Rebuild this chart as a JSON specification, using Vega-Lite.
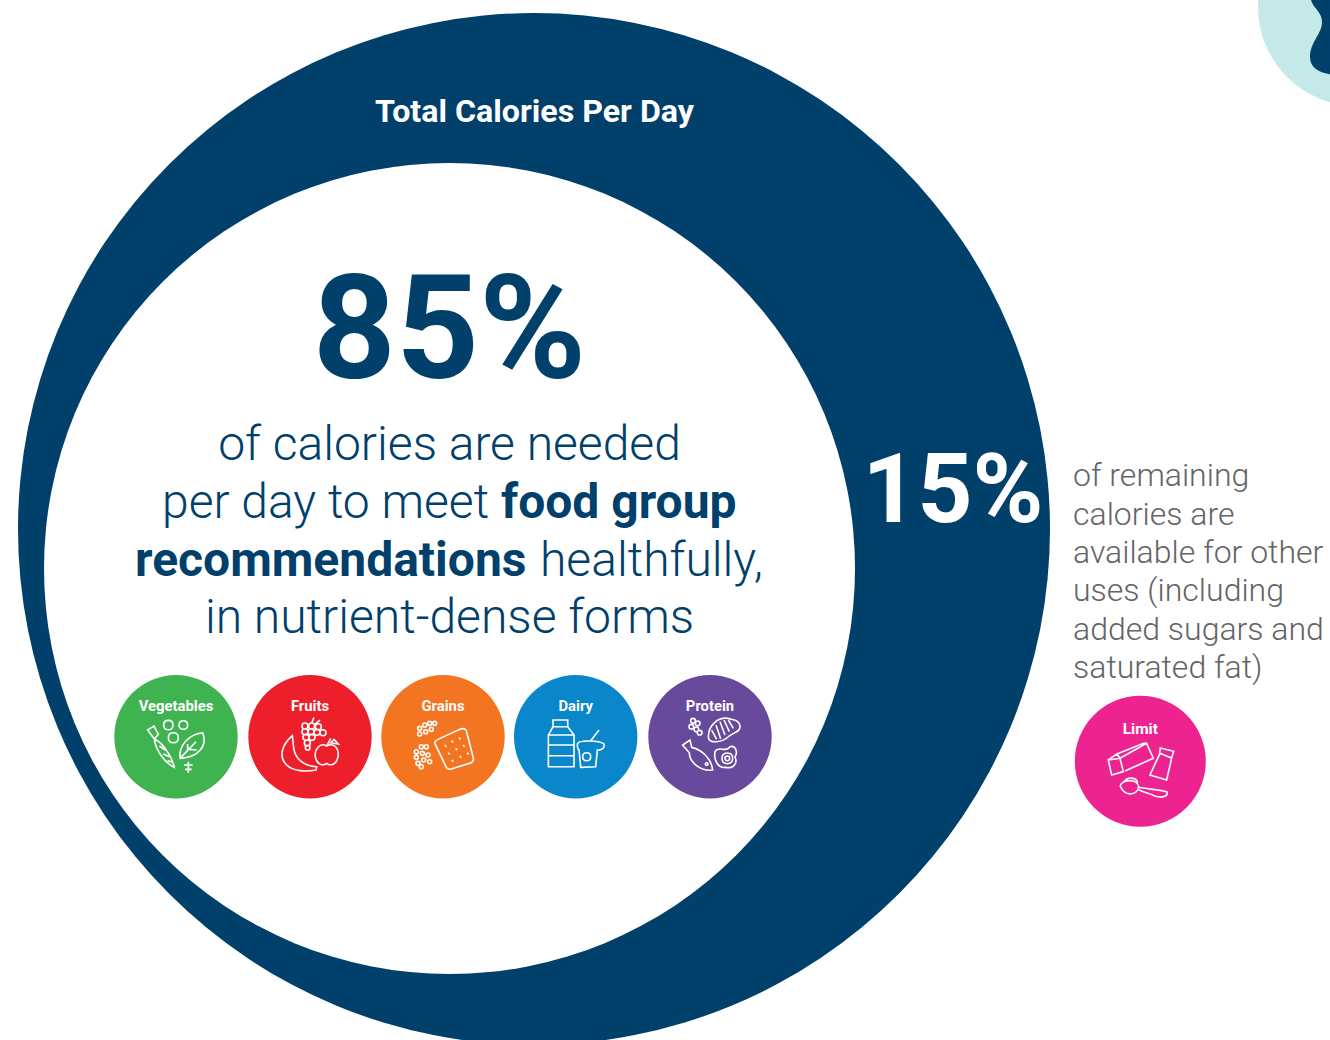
{
  "$schema": "https://vega.github.io/schema/vega-lite/v6.json",
  "width": 1330,
  "height": 1040,
  "padding": 0,
  "autosize": "none",
  "background": "white",
  "config": {"view": {"stroke": null}},
  "datasets": {
    "corner": [{"name": "corner", "x": 135.7, "y": 0.7}],
    "cornerEdge": [{"name": "corner wave", "x": 133, "y": 0}],
    "total": [{"name": "Total calories", "x": 53.4, "y": 52.9}],
    "needed": [{"name": "Needed calories", "x": 44.95, "y": 56.85}],
    "groups": [
      {"group": "Vegetables", "x": 17.6, "y": 73.67, "labelY": 71.05},
      {"group": "Fruits", "x": 31.0, "y": 73.67, "labelY": 71.05},
      {"group": "Grains", "x": 44.3, "y": 73.67, "labelY": 71.05},
      {"group": "Dairy", "x": 57.57, "y": 73.67, "labelY": 71.05},
      {"group": "Protein", "x": 71.0, "y": 73.67, "labelY": 71.05}
    ],
    "limit": [{"group": "Limit", "x": 114.03, "y": 76.13, "labelY": 73.35}],
    "titleText": [{"label": "Total Calories Per Day", "x": 53.45, "y": 12.15}],
    "bigShare": [{"label": "85%", "x": 44.95, "y": 37.8}],
    "smallShare": [{"label": "15%", "x": 95.3, "y": 52.2}],
    "bodyLight": [
      {"label": "of calories are needed", "x": 44.95, "y": 45.95, "line": 1},
      {"label": "in nutrient-dense forms", "x": 44.95, "y": 63.25, "line": 4}
    ],
    "bodyLightLeft": [
      {"label": "per day to meet", "x": 16.2, "y": 51.75},
      {"label": "healthfully,", "x": 54.0, "y": 57.55}
    ],
    "bodyBoldLeft": [
      {"label": "food group", "x": 50.1, "y": 51.75},
      {"label": "recommendations", "x": 13.5, "y": 57.55}
    ],
    "note": [
      {"label": "of remaining", "x": 107.3, "y": 48.6},
      {"label": "calories are", "x": 107.3, "y": 52.5},
      {"label": "available for other", "x": 107.3, "y": 56.3},
      {"label": "uses (including", "x": 107.3, "y": 60.1},
      {"label": "added sugars and", "x": 107.3, "y": 64.0},
      {"label": "saturated fat)", "x": 107.3, "y": 67.8}
    ]
  },
  "encoding": {
    "x": {"field": "x", "type": "quantitative", "axis": null, "scale": {"domain": [0, 133], "range": [0, 1330]}},
    "y": {"field": "y", "type": "quantitative", "axis": null, "scale": {"domain": [0, 104], "range": [0, 1040]}}
  },
  "layer": [
    {"data": {"name": "corner"}, "mark": {"type": "circle", "size": 39204, "color": "#c5e8e8", "opacity": 1, "clip": false}},
    {"data": {"name": "cornerEdge"}, "mark": {"type": "point", "filled": true, "size": 4, "color": "#00406b", "opacity": 1, "shape": "M-19 0 C-17 8 -8 12 -8 22 C-8 34 -20 42 -20 57 C-20 68 -10 75 10 75 L10 -10 L-19 -10 Z"}},
    {"data": {"name": "total"}, "mark": {"type": "circle", "size": 1065024, "color": "#00406b", "opacity": 1}},
    {"data": {"name": "needed"}, "mark": {"type": "circle", "size": 657721, "color": "#ffffff", "opacity": 1}},
    {
      "data": {"name": "groups"},
      "mark": {"type": "circle", "size": 15228, "opacity": 1},
      "encoding": {"color": {"field": "group", "type": "nominal", "legend": null, "scale": {"domain": ["Vegetables", "Fruits", "Grains", "Dairy", "Protein"], "range": ["#3fb34f", "#ed1f2b", "#f47521", "#0a87cb", "#674a9c"]}}}
    },
    {"data": {"name": "limit"}, "mark": {"type": "circle", "size": 17161, "color": "#ed2490", "opacity": 1}},
    {
      "data": {"name": "groups"},
      "mark": {"type": "point", "filled": false, "size": 0.4444, "stroke": "#ffffff", "strokeWidth": 1.6, "opacity": 1},
      "encoding": {"shape": {"field": "group", "type": "nominal", "legend": null, "scale": {
        "domain": ["Vegetables", "Fruits", "Grains", "Dairy", "Protein"],
        "range": [
          "M-85 -20 L-66 -32 L-53 -7 L-65 7 Z M-65 7 C-45 15 -15 50 -5 92 C-30 80 -60 45 -65 7 Z M-50 28 L-32 40 M-38 52 L-20 60 M-25 72 L-12 76 M-37 -35 q0 -14 14 -14 q14 0 14 14 q0 14 -14 14 q-14 0 -14 -14z M9 -35 q0 -13 13 -13 q13 0 13 13 q0 13 -13 13 q-13 0 -13 -13z M-23 3 q0 -15 15 -15 q15 0 15 15 q0 15 -15 15 q-15 0 -15 -15z M12 65 C8 25 40 -8 80 -12 C95 25 70 62 12 65 Z M12 65 L60 15 M35 40 L35 22 M40 38 L62 40 M37 75 L37 108 M24 85 L50 85 M27 98 L47 98",
          "M-53 -3 C-85 25 -95 60 -70 85 C-50 105 -10 105 18 100 L20 90 C-15 88 -48 70 -50 25 Z M-24 -32 q0 -9 9 -9 q9 0 9 9 q0 9 -9 9 q-9 0 -9 -9z M-4 -32 q0 -9 9 -9 q9 0 9 9 q0 9 -9 9 q-9 0 -9 -9z M16 -30 q0 -9 9 -9 q9 0 9 9 q0 9 -9 9 q-9 0 -9 -9z M-24 -15 q0 -9 9 -9 q9 0 9 9 q0 9 -9 9 q-9 0 -9 -9z M-6 -15 q0 -9 9 -9 q9 0 9 9 q0 9 -9 9 q-9 0 -9 -9z M12 -13 q0 -9 9 -9 q9 0 9 9 q0 9 -9 9 q-9 0 -9 -9z M30 -12 q0 -9 9 -9 q9 0 9 9 q0 9 -9 9 q-9 0 -9 -9z M-21 2 q0 -9 9 -9 q9 0 9 9 q0 9 -9 9 q-9 0 -9 -9z M-3 2 q0 -9 9 -9 q9 0 9 9 q0 9 -9 9 q-9 0 -9 -9z M-17 19 q0 -9 9 -9 q9 0 9 9 q0 9 -9 9 q-9 0 -9 -9z M-14 33 q0 -7 7 -7 q7 0 7 7 q0 7 -7 7 q-7 0 -7 -7z M5 -41 L12 -58 M15 -38 L30 -50 M50 28 C75 15 88 40 84 60 C80 85 60 88 50 80 C40 88 20 85 16 60 C12 40 30 15 50 28 Z M50 28 L62 5 M62 18 L85 22 L72 8 Z",
          "M-22 25 Q-30 15 -15 8 L50 -22 Q70 -30 72 -10 L90 60 Q95 75 80 80 L25 97 Q12 100 8 88 Z M5 25 L10 30 M25 12 L30 17 M48 3 L53 8 M15 48 L20 53 M38 35 L43 40 M60 25 L65 30 M26 70 L31 75 M50 58 L55 63 M72 48 L77 53 M-76 -25 q0 -6 6 -6 q6 0 6 6 q0 6 -6 6 q-6 0 -6 -6z M-61 -35 q0 -6 6 -6 q6 0 6 6 q0 6 -6 6 q-6 0 -6 -6z M-46 -40 q0 -6 6 -6 q6 0 6 6 q0 6 -6 6 q-6 0 -6 -6z M-31 -40 q0 -6 6 -6 q6 0 6 6 q0 6 -6 6 q-6 0 -6 -6z M-76 -8 q0 -6 6 -6 q6 0 6 6 q0 6 -6 6 q-6 0 -6 -6z M-58 -15 q0 -6 6 -6 q6 0 6 6 q0 6 -6 6 q-6 0 -6 -6z M-41 -22 q0 -6 6 -6 q6 0 6 6 q0 6 -6 6 q-6 0 -6 -6z M-86 45 q0 -6 6 -6 q6 0 6 6 q0 6 -6 6 q-6 0 -6 -6z M-71 30 q0 -6 6 -6 q6 0 6 6 q0 6 -6 6 q-6 0 -6 -6z M-56 30 q0 -6 6 -6 q6 0 6 6 q0 6 -6 6 q-6 0 -6 -6z M-86 62 q0 -6 6 -6 q6 0 6 6 q0 6 -6 6 q-6 0 -6 -6z M-68 50 q0 -6 6 -6 q6 0 6 6 q0 6 -6 6 q-6 0 -6 -6z M-51 55 q0 -6 6 -6 q6 0 6 6 q0 6 -6 6 q-6 0 -6 -6z M-81 80 q0 -6 6 -6 q6 0 6 6 q0 6 -6 6 q-6 0 -6 -6z M-64 70 q0 -6 6 -6 q6 0 6 6 q0 6 -6 6 q-6 0 -6 -6z M-46 75 q0 -6 6 -6 q6 0 6 6 q0 6 -6 6 q-6 0 -6 -6z M-71 90 q0 -6 6 -6 q6 0 6 6 q0 6 -6 6 q-6 0 -6 -6z",
          "M-82 -5 L-68 -30 L-68 -50 L-24 -50 L-24 -30 L-5 -5 L-5 90 L-82 90 Z M-82 -5 L-5 -5 M-82 25 L-5 25 M-82 57 L-5 57 M-68 -30 L-24 -30 M5 22 C5 10 70 10 85 22 C88 35 75 42 65 40 L60 90 L15 92 L10 40 C5 38 5 30 5 22 Z M45 12 L70 -20 M21 60 q0 -12 12 -12 q12 0 12 12 q0 12 -12 12 q-12 0 -12 -12z",
          "M-5 0 C-5 -35 25 -60 55 -55 C70 -50 90 -50 90 -30 C90 -15 75 -15 55 0 C40 15 -5 25 -5 0 Z M5 -20 L20 8 M18 -35 L32 6 M30 -45 L45 -5 M42 -50 L58 -15 M55 -50 L70 -25 M-82 25 L-60 10 L-55 32 C-20 40 5 70 8 100 C-30 105 -62 75 -62 48 Z M-14 82 q0 -4 4 -4 q4 0 4 4 q0 4 -4 4 q-4 0 -4 -4z M15 45 C25 25 50 50 60 30 C75 25 85 45 75 60 C85 85 65 97 45 92 C25 95 10 70 15 45 Z M36 65 q0 -16 16 -16 q16 0 16 16 q0 16 -16 16 q-16 0 -16 -16z M45 65 q0 -7 7 -7 q7 0 7 7 q0 7 -7 7 q-7 0 -7 -7z M-58 -48 q0 -7 7 -7 q7 0 7 7 q0 7 -7 7 q-7 0 -7 -7z M-44 -40 q0 -7 7 -7 q7 0 7 7 q0 7 -7 7 q-7 0 -7 -7z M-63 -30 q0 -7 7 -7 q7 0 7 7 q0 7 -7 7 q-7 0 -7 -7z M-48 -22 q0 -7 7 -7 q7 0 7 7 q0 7 -7 7 q-7 0 -7 -7z M-38 -12 q0 -7 7 -7 q7 0 7 7 q0 7 -7 7 q-7 0 -7 -7z"
        ]
      }}}
    },
    {
      "data": {"name": "limit"},
      "mark": {"type": "point", "filled": false, "size": 0.4444, "stroke": "#ffffff", "strokeWidth": 1.6, "opacity": 1, "shape": "M-96 -4 L-61 -9 L-51 31 L-86 41 Z M-96 -4 L-70 -22 L-61 -9 M-70 -22 L10 -54 L19 -54 L39 -9 L-46 29 M-61 -9 L19 -54 M59 -24 L94 -9 L79 56 L29 41 Z M60 -40 L100 -30 L94 -10 L58 -24 Z M-60 75 C-60 55 -10 50 -5 75 C-5 100 -45 110 -60 75 Z M-50 62 C-35 42 -10 50 -8 65 M-5 78 C30 85 60 85 80 92 C85 105 65 110 45 105 C30 95 10 95 -5 85"}
    },
    {
      "data": {"name": "groups"},
      "mark": {"type": "text", "font": "Roboto", "fontWeight": 700, "fontSize": 14.8, "color": "#ffffff", "align": "center", "baseline": "alphabetic"},
      "encoding": {"y": {"field": "labelY", "type": "quantitative", "axis": null, "scale": {"domain": [0, 104], "range": [0, 1040]}}, "text": {"field": "group", "type": "nominal"}}
    },
    {
      "data": {"name": "limit"},
      "mark": {"type": "text", "font": "Roboto", "fontWeight": 700, "fontSize": 15.5, "color": "#ffffff", "align": "center", "baseline": "alphabetic"},
      "encoding": {"y": {"field": "labelY", "type": "quantitative", "axis": null, "scale": {"domain": [0, 104], "range": [0, 1040]}}, "text": {"field": "group", "type": "nominal"}}
    },
    {
      "data": {"name": "titleText"},
      "mark": {"type": "text", "font": "Roboto", "fontWeight": 700, "fontSize": 32.2, "color": "#ffffff", "align": "center", "baseline": "alphabetic"},
      "encoding": {"text": {"field": "label", "type": "nominal"}}
    },
    {
      "data": {"name": "bigShare"},
      "mark": {"type": "text", "font": "Roboto", "fontWeight": 700, "fontSize": 145, "color": "#00406b", "align": "center", "baseline": "alphabetic"},
      "encoding": {"text": {"field": "label", "type": "nominal"}}
    },
    {
      "data": {"name": "smallShare"},
      "mark": {"type": "text", "font": "Roboto", "fontWeight": 700, "fontSize": 96, "color": "#ffffff", "align": "center", "baseline": "alphabetic"},
      "encoding": {"text": {"field": "label", "type": "nominal"}}
    },
    {
      "data": {"name": "bodyLight"},
      "mark": {"type": "text", "font": "Roboto", "fontWeight": 300, "fontSize": 48, "color": "#00406b", "align": "center", "baseline": "alphabetic"},
      "encoding": {"text": {"field": "label", "type": "nominal"}}
    },
    {
      "data": {"name": "bodyLightLeft"},
      "mark": {"type": "text", "font": "Roboto", "fontWeight": 300, "fontSize": 48, "color": "#00406b", "align": "left", "baseline": "alphabetic"},
      "encoding": {"text": {"field": "label", "type": "nominal"}}
    },
    {
      "data": {"name": "bodyBoldLeft"},
      "mark": {"type": "text", "font": "Roboto", "fontWeight": 700, "fontSize": 48, "color": "#00406b", "align": "left", "baseline": "alphabetic"},
      "encoding": {"text": {"field": "label", "type": "nominal"}}
    },
    {
      "data": {"name": "note"},
      "mark": {"type": "text", "font": "Roboto", "fontWeight": 300, "fontSize": 32, "color": "#636466", "align": "left", "baseline": "alphabetic"},
      "encoding": {"text": {"field": "label", "type": "nominal"}}
    }
  ]
}
